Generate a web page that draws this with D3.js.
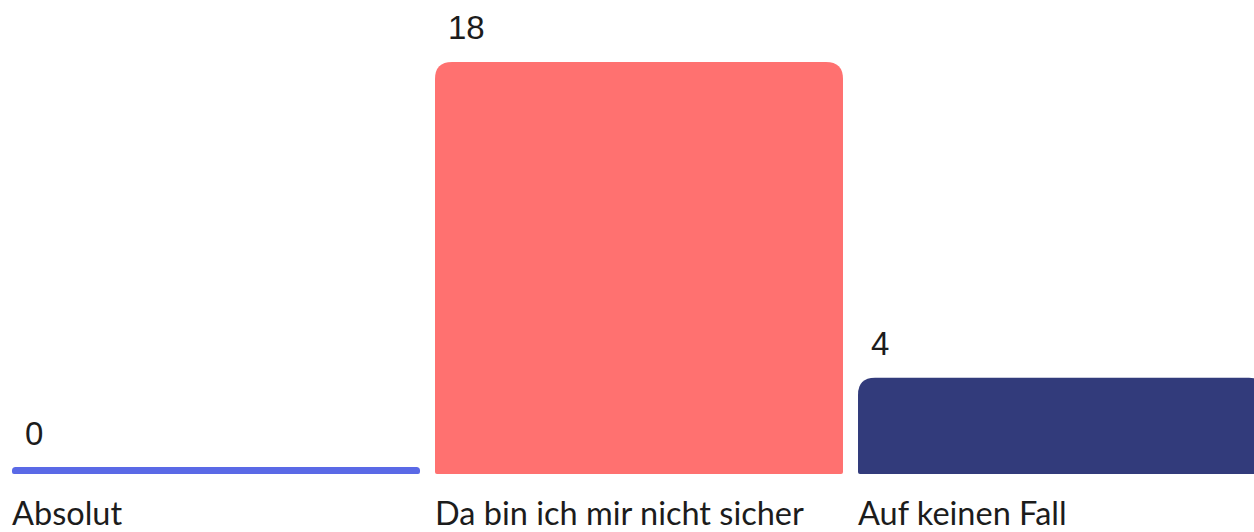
<!DOCTYPE html>
<html>
<head>
<meta charset="utf-8">
<script src="https://cdn.jsdelivr.net/npm/d3@7"></script>
<style>
  html, body { margin: 0; padding: 0; background: #fff; overflow: hidden; }
  svg { display: block; }
</style>
</head>
<body>
<svg id="chart" width="1254" height="532"></svg>
<script>
// chart data
const categories = ["Absolut", "Da bin ich mir nicht sicher", "Auf keinen Fall"];
const values = [0, 18, 4];
const colors = ["#5a69e6", "#ff7170", "#323b7b"];

const baseline = 474;

// x: one band per answer
const xScale = d3
  .scaleBand()
  .domain(categories)
  .range([12, 1266])
  .paddingInner(0.0355)
  .paddingOuter(0);

// y: zero still gets a thin bar
const yScale = d3.scaleLinear().domain([0, 18]).range([468, 62]);

// rect with rounded top corners (rt) and small bottom corners (rb)
function barPath(x, y, w, h, rt, rb) {
  rt = Math.min(rt, h / 2, w / 2);
  rb = Math.min(rb, h / 2, w / 2);
  return (
    "M" + x + "," + (y + rt) +
    "Q" + x + "," + y + " " + (x + rt) + "," + y +
    "H" + (x + w - rt) +
    "Q" + (x + w) + "," + y + " " + (x + w) + "," + (y + rt) +
    "V" + (y + h - rb) +
    "Q" + (x + w) + "," + (y + h) + " " + (x + w - rb) + "," + (y + h) +
    "H" + (x + rb) +
    "Q" + x + "," + (y + h) + " " + x + "," + (y + h - rb) +
    "Z"
  );
}

const data = categories.map((c, i) => ({ cat: c, value: values[i], color: colors[i] }));

const svg = d3.select("#chart");

// bars
svg
  .selectAll(".bar")
  .data(data)
  .enter()
  .append("path")
  .attr("class", "bar")
  .attr("fill", (d) => d.color)
  .attr("d", (d) => {
    const y = yScale(d.value) - (d.value === 0 ? 1 : 0);
    return barPath(xScale(d.cat), y, xScale.bandwidth(), baseline - y, 17, 2);
  });

// value labels above bars
svg
  .selectAll(".val")
  .data(data)
  .enter()
  .append("text")
  .attr("class", "val")
  .attr("x", (d) => xScale(d.cat) + 13)
  .attr("y", (d) => yScale(d.value) - 23)
  .attr("font-family", "'Liberation Sans', Arial, sans-serif")
  .attr("font-size", 33)
  .attr("fill", "#1c1c1c")
  .text((d) => d.value);

// category labels under bars
svg
  .selectAll(".cat")
  .data(data)
  .enter()
  .append("text")
  .attr("class", "cat")
  .attr("x", (d) => xScale(d.cat))
  .attr("y", 525)
  .attr("font-family", "Lato, 'Open Sans', sans-serif")
  .attr("font-size", 32.5)
  .attr("fill", "#1c1c1c")
  .text((d) => d.cat);
</script>
</body>
</html>
